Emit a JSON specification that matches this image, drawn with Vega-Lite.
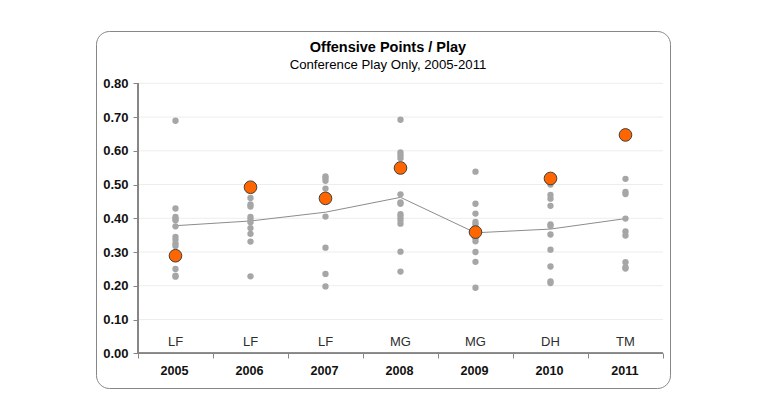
{
  "$schema": "https://vega.github.io/schema/vega-lite/v6.json",
  "width": 574,
  "height": 357,
  "padding": {"left": 96, "top": 31, "right": 105, "bottom": 22},
  "background": "white",
  "view": {"stroke": "#868686", "strokeWidth": 1, "cornerRadius": 13, "fill": "white"},
  "title": {
    "text": "Offensive Points / Play",
    "subtitle": "Conference Play Only, 2005-2011",
    "anchor": "middle",
    "offset": -41,
    "dx": 5,
    "font": "Liberation Sans",
    "fontSize": 14.5,
    "fontWeight": "bold",
    "color": "black",
    "subtitleFont": "Liberation Sans",
    "subtitleFontSize": 13.2,
    "subtitleColor": "black",
    "subtitlePadding": 3
  },
  "datasets": {
    "teams": [
      {"year": "2005", "ppp": 0.689}, {"year": "2005", "ppp": 0.429}, {"year": "2005", "ppp": 0.404},
      {"year": "2005", "ppp": 0.398}, {"year": "2005", "ppp": 0.394}, {"year": "2005", "ppp": 0.376},
      {"year": "2005", "ppp": 0.345}, {"year": "2005", "ppp": 0.336}, {"year": "2005", "ppp": 0.325},
      {"year": "2005", "ppp": 0.318}, {"year": "2005", "ppp": 0.25}, {"year": "2005", "ppp": 0.23},
      {"year": "2005", "ppp": 0.227},
      {"year": "2006", "ppp": 0.46}, {"year": "2006", "ppp": 0.441}, {"year": "2006", "ppp": 0.435},
      {"year": "2006", "ppp": 0.404}, {"year": "2006", "ppp": 0.396}, {"year": "2006", "ppp": 0.388},
      {"year": "2006", "ppp": 0.371}, {"year": "2006", "ppp": 0.354}, {"year": "2006", "ppp": 0.331},
      {"year": "2006", "ppp": 0.228},
      {"year": "2007", "ppp": 0.524}, {"year": "2007", "ppp": 0.519}, {"year": "2007", "ppp": 0.511},
      {"year": "2007", "ppp": 0.488}, {"year": "2007", "ppp": 0.405}, {"year": "2007", "ppp": 0.313},
      {"year": "2007", "ppp": 0.235}, {"year": "2007", "ppp": 0.198},
      {"year": "2008", "ppp": 0.692}, {"year": "2008", "ppp": 0.595}, {"year": "2008", "ppp": 0.587},
      {"year": "2008", "ppp": 0.578}, {"year": "2008", "ppp": 0.471}, {"year": "2008", "ppp": 0.447},
      {"year": "2008", "ppp": 0.443}, {"year": "2008", "ppp": 0.412}, {"year": "2008", "ppp": 0.404},
      {"year": "2008", "ppp": 0.395}, {"year": "2008", "ppp": 0.384}, {"year": "2008", "ppp": 0.301},
      {"year": "2008", "ppp": 0.242},
      {"year": "2009", "ppp": 0.538}, {"year": "2009", "ppp": 0.443}, {"year": "2009", "ppp": 0.414},
      {"year": "2009", "ppp": 0.389}, {"year": "2009", "ppp": 0.382}, {"year": "2009", "ppp": 0.341},
      {"year": "2009", "ppp": 0.332}, {"year": "2009", "ppp": 0.3}, {"year": "2009", "ppp": 0.271},
      {"year": "2009", "ppp": 0.194},
      {"year": "2010", "ppp": 0.5}, {"year": "2010", "ppp": 0.469}, {"year": "2010", "ppp": 0.458},
      {"year": "2010", "ppp": 0.437}, {"year": "2010", "ppp": 0.382}, {"year": "2010", "ppp": 0.377},
      {"year": "2010", "ppp": 0.352}, {"year": "2010", "ppp": 0.307}, {"year": "2010", "ppp": 0.257},
      {"year": "2010", "ppp": 0.213}, {"year": "2010", "ppp": 0.208},
      {"year": "2011", "ppp": 0.517}, {"year": "2011", "ppp": 0.478}, {"year": "2011", "ppp": 0.472},
      {"year": "2011", "ppp": 0.399}, {"year": "2011", "ppp": 0.361}, {"year": "2011", "ppp": 0.349},
      {"year": "2011", "ppp": 0.27}, {"year": "2011", "ppp": 0.255}, {"year": "2011", "ppp": 0.251}
    ],
    "focus": [
      {"year": "2005", "ppp": 0.289, "coach": "LF"},
      {"year": "2006", "ppp": 0.492, "coach": "LF"},
      {"year": "2007", "ppp": 0.459, "coach": "LF"},
      {"year": "2008", "ppp": 0.549, "coach": "MG"},
      {"year": "2009", "ppp": 0.359, "coach": "MG"},
      {"year": "2010", "ppp": 0.518, "coach": "DH"},
      {"year": "2011", "ppp": 0.647, "coach": "TM"}
    ],
    "average": [
      {"year": "2005", "ppp": 0.378},
      {"year": "2006", "ppp": 0.392},
      {"year": "2007", "ppp": 0.418},
      {"year": "2008", "ppp": 0.462},
      {"year": "2009", "ppp": 0.357},
      {"year": "2010", "ppp": 0.368},
      {"year": "2011", "ppp": 0.399}
    ],
    "grid": [
      {"v": 0.1}, {"v": 0.2}, {"v": 0.3}, {"v": 0.4},
      {"v": 0.5}, {"v": 0.6}, {"v": 0.7}, {"v": 0.8}
    ]
  },
  "layer": [
    {
      "data": {"name": "grid"},
      "mark": {"type": "rule", "color": "#EDEDED", "strokeWidth": 1},
      "encoding": {
        "x": {"datum": "2005", "type": "nominal", "bandPosition": 0, "title": null},
        "x2": {"datum": "2011", "bandPosition": 1},
        "y": {"field": "v", "type": "quantitative", "title": null}
      }
    },
    {
      "data": {"name": "grid"},
      "mark": {"type": "rule", "color": "#868686", "strokeWidth": 1},
      "encoding": {
        "x": {"datum": "2005", "type": "nominal", "bandPosition": 0, "title": null},
        "y": {"datum": 0, "type": "quantitative", "title": null},
        "y2": {"datum": 0.8}
      }
    },
    {
      "data": {"name": "grid"},
      "mark": {"type": "rule", "color": "#868686", "strokeWidth": 1},
      "encoding": {
        "x": {"datum": "2005", "type": "nominal", "bandPosition": 0, "title": null},
        "x2": {"datum": "2011", "bandPosition": 1},
        "y": {"datum": 0, "type": "quantitative", "title": null}
      }
    },
    {
      "data": {"name": "average"},
      "mark": {"type": "line", "color": "#8C8C8C", "strokeWidth": 1},
      "encoding": {
        "x": {"field": "year", "type": "nominal", "title": null},
        "y": {"field": "ppp", "type": "quantitative", "title": null}
      }
    },
    {
      "data": {"name": "teams"},
      "mark": {"type": "circle", "color": "#A6A6A6", "opacity": 1, "size": 40},
      "encoding": {
        "x": {
          "field": "year",
          "type": "nominal",
          "title": null,
          "scale": {
            "type": "band",
            "domain": ["2005", "2006", "2007", "2008", "2009", "2010", "2011"],
            "paddingInner": 0,
            "paddingOuter": 0.3267,
            "align": 0.857
          },
          "axis": {
            "orient": "bottom",
            "offset": -35,
            "domain": false,
            "grid": false,
            "tickBand": "extent",
            "tickSize": 5,
            "tickColor": "#868686",
            "labelAngle": 0,
            "labelOffset": 12.5,
            "labelPadding": 12,
            "labelFont": "Liberation Sans",
            "labelFontSize": 12.6,
            "labelFontWeight": "bold",
            "labelColor": "#111111"
          }
        },
        "y": {
          "field": "ppp",
          "type": "quantitative",
          "title": null,
          "scale": {"domain": [-0.103, 0.955], "nice": false, "zero": false},
          "axis": {
            "orient": "left",
            "offset": -42,
            "values": [0, 0.1, 0.2, 0.3, 0.4, 0.5, 0.6, 0.7, 0.8],
            "format": ".2f",
            "domain": false,
            "grid": false,
            "tickSize": 5,
            "tickColor": "#868686",
            "labelPadding": 5,
            "labelFont": "Liberation Sans",
            "labelFontSize": 13,
            "labelFontWeight": "bold",
            "labelColor": "#111111"
          }
        }
      }
    },
    {
      "data": {"name": "focus"},
      "mark": {"type": "circle", "fill": "#FF6600", "stroke": "#404040", "strokeWidth": 1, "opacity": 1, "size": 160},
      "encoding": {
        "x": {"field": "year", "type": "nominal", "title": null},
        "y": {"field": "ppp", "type": "quantitative", "title": null}
      }
    },
    {
      "data": {"name": "focus"},
      "mark": {"type": "text", "font": "Liberation Sans", "fontSize": 13, "color": "#2E2E2E", "baseline": "middle"},
      "encoding": {
        "x": {"field": "year", "type": "nominal", "title": null},
        "y": {"datum": 0.033, "type": "quantitative", "title": null},
        "text": {"field": "coach"}
      }
    }
  ]
}
